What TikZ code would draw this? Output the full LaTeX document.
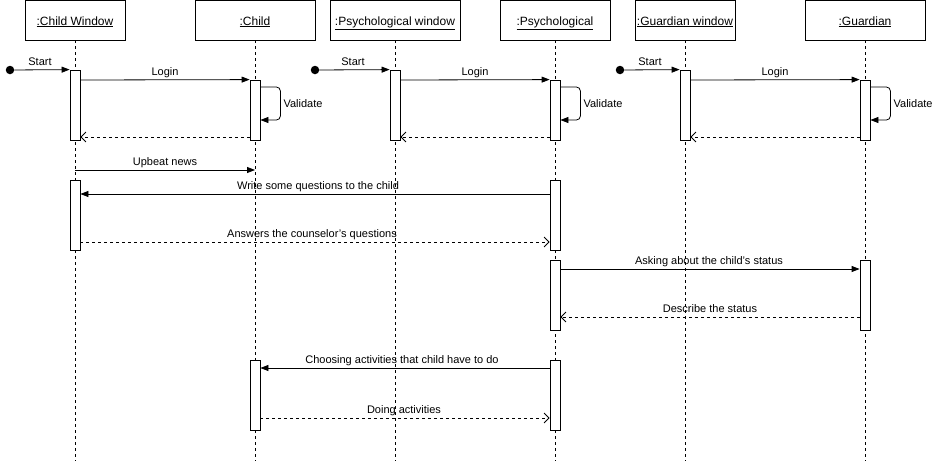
\documentclass[tikz,border=0pt]{standalone}
\usepackage{fontspec}
\setmainfont{Liberation Sans}
\usetikzlibrary{arrows.meta}
\begin{document}
\begin{tikzpicture}[x=1pt,y=-1pt,
  hdr/.style={draw,line width=0.8pt,minimum height=40pt,inner sep=0pt,text height=10pt,text depth=1pt,font=\fontsize{12}{14}\selectfont,fill=white},
  act/.style={draw,line width=0.8pt,fill=white,minimum width=10pt,inner sep=0pt},
  life/.style={line width=0.8pt,dash pattern=on 3pt off 3pt},
  dot/.style={circle,fill=black,minimum size=8.5pt,inner sep=0pt},
  msg/.style={line width=0.8pt,-{Triangle[length=8pt,width=6pt]}},
  ret/.style={line width=0.8pt,dash pattern=on 3pt off 3pt,-{Straight Barb[length=5pt,width=10pt]}},
  lbl/.style={font=\fontsize{11}{13}\selectfont,inner sep=0pt,anchor=base}
]
\useasboundingbox (0,0) rectangle (934,461);
% lifelines
\foreach \x in {75,255,395,555,685,865} \draw[life] (\x,40) -- (\x,461);
% headers
\node[hdr,minimum width=100pt] (h1) at (75,20.5) {\underline{:Child Window}};
\node[hdr,minimum width=120pt] (h2) at (255,20.5) {\underline{:Child}};
\node[hdr,minimum width=130pt] (h3) at (395,20.5) {\underline{:Psychological window}};
\node[hdr,minimum width=110pt] (h4) at (555,20.5) {\underline{:Psychological}};
\node[hdr,minimum width=100pt] (h5) at (685,20.5) {\underline{:Guardian window}};
\node[hdr,minimum width=120pt] (h6) at (865,20.5) {\underline{:Guardian}};
% activations
\node[act,minimum height=70pt] (cw1) at (75,105) {};
\node[act,minimum height=60pt] (c1) at (255,110) {};
\node[act,minimum height=70pt] (pw1) at (395,105) {};
\node[act,minimum height=60pt] (p1) at (555,110) {};
\node[act,minimum height=70pt] (gw1) at (685,105) {};
\node[act,minimum height=60pt] (g1) at (865,110) {};
\node[act,minimum height=70pt] (cw2) at (75,215) {};
\node[act,minimum height=70pt] (p2) at (555,215) {};
\node[act,minimum height=70pt] (p3) at (555,295) {};
\node[act,minimum height=70pt] (g2) at (865,295) {};
\node[act,minimum height=70pt] (c2) at (255,395) {};
\node[act,minimum height=70pt] (p4) at (555,395) {};
% start dots
\node[dot] (s1) at (10,70) {};
\node[dot] (s2) at (315,70) {};
\node[dot] (s3) at (620,70) {};
% login groups
\foreach \s/\w/\o/\lx in {s1/cw1/c1/40, s2/pw1/p1/353, s3/gw1/g1/650} {
  \draw[msg] (\s) -- (\w.north west);
  \node[lbl] at (\lx,65) {Start};
  \draw[msg] (\w.east |- 0,80) -- (\o.north west);
  \draw[msg,rounded corners=4pt] (\o.east |- 0,87) -| ([xshift=20pt]\o.east |- 0,120) -- (\o.east |- 0,120);
  \node[lbl,anchor=base west] at ([xshift=23pt]\o.east |- 0,107) {Validate};
  \draw[ret] (\o.west |- 0,137) -- (\w.east |- 0,137);
}
\node[lbl] at (165,75) {Login};
\node[lbl] at (475,75) {Login};
\node[lbl] at (775,75) {Login};
% messages
\draw[msg] (h1.south |- 0,170) -- (h2.south |- 0,170);
\node[lbl] at (165,165) {Upbeat news};
\draw[msg] (p2.west |- 0,194) -- (cw2.east |- 0,194);
\node[lbl] at (318,189) {Write some questions to the child};
\draw[ret] (cw2.east |- 0,242) -- (p2.west |- 0,242);
\node[lbl] at (312,237) {Answers the counselor's questions};
\draw[msg] (p3.east |- 0,269) -- (g2.west |- 0,269);
\node[lbl] at (709,264) {Asking about the child's status};
\draw[ret] (g2.west |- 0,317) -- (p3.east |- 0,317);
\node[lbl] at (710,312) {Describe the status};
\draw[msg] (p4.west |- 0,368) -- (c2.east |- 0,368);
\node[lbl] at (402,363) {Choosing activities that child have to do};
\draw[ret] (c2.east |- 0,418) -- (p4.west |- 0,418);
\node[lbl] at (404,413) {Doing activities};
\end{tikzpicture}
\end{document}
